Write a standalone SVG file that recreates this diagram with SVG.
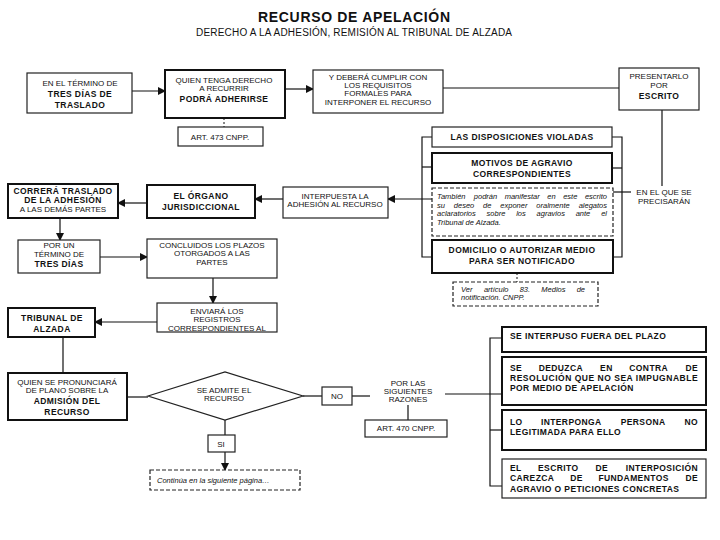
<svg xmlns="http://www.w3.org/2000/svg" width="720" height="540" viewBox="0 0 720 540">
<defs>
<marker id="ah" markerWidth="8" markerHeight="8" refX="7" refY="4" orient="auto" markerUnits="userSpaceOnUse">
<path d="M0,0 L8,4 L0,8 Z" fill="#111"/>
</marker>
<style>
text{font-family:"Liberation Sans",Arial,sans-serif;fill:#111;font-size:8px}
.c{text-anchor:middle}
.e{text-anchor:end}
.b{font-weight:bold;font-size:8.5px;letter-spacing:0.4px}
.i{font-style:italic;font-size:7.5px}
.box{fill:#fff;stroke:#222;stroke-width:1.2}
.tk{fill:#fff;stroke:#111;stroke-width:2}
.ds{fill:#fff;stroke:#222;stroke-width:1.2;stroke-dasharray:4,2}
.ln{fill:none;stroke:#111;stroke-width:1.2}
.dl{fill:none;stroke:#111;stroke-width:1;stroke-dasharray:2,2}
</style>
</defs>
<rect width="720" height="540" fill="#fff"/>
<g id="title">
<text x="354" y="22" class="c" style="font-size:14px;font-weight:bold" textLength="192" lengthAdjust="spacing">RECURSO DE APELACIÓN</text>
<text x="354" y="36" class="c" style="font-size:10px" textLength="316" lengthAdjust="spacing">DERECHO A LA ADHESIÓN, REMISIÓN AL TRIBUNAL DE ALZADA</text>
</g>
<g id="connectors">
<line class="ln" x1="132" y1="91" x2="165" y2="91" marker-end="url(#ah)"/>
<line class="ln" x1="285" y1="89" x2="313" y2="89" marker-end="url(#ah)"/>
<line class="dl" x1="224" y1="118" x2="224" y2="127"/>
<line class="ln" x1="443" y1="88" x2="619" y2="88"/>
<line class="ln" x1="662" y1="110" x2="662" y2="186"/>
<polyline class="ln" points="612,137 622,137 622,257 613,257"/>
<line class="ln" x1="612" y1="168" x2="622" y2="168"/>
<line class="ln" x1="613" y1="192" x2="631" y2="192"/>
<polyline class="ln" points="432,137 422,137 422,257 432,257"/>
<line class="ln" x1="422" y1="167" x2="432" y2="167"/>
<line class="ln" x1="432" y1="199" x2="388" y2="199" marker-end="url(#ah)"/>
<line class="ln" x1="283" y1="199" x2="255" y2="199" marker-end="url(#ah)"/>
<line class="ln" x1="147" y1="203" x2="118" y2="203" marker-end="url(#ah)"/>
<line class="ln" x1="60" y1="218" x2="60" y2="240" marker-end="url(#ah)"/>
<line class="ln" x1="100" y1="257" x2="147" y2="257" marker-end="url(#ah)"/>
<line class="ln" x1="213" y1="278" x2="213" y2="303" marker-end="url(#ah)"/>
<line class="dl" x1="517" y1="273" x2="517" y2="282"/>
<line class="ln" x1="157" y1="322" x2="95" y2="322" marker-end="url(#ah)"/>
<line class="ln" x1="63" y1="337" x2="63" y2="373"/>
<line class="ln" x1="127" y1="397" x2="148" y2="397"/>
<line class="ln" x1="303" y1="396" x2="322" y2="396"/>
<line class="ln" x1="352" y1="396" x2="370" y2="396"/>
<line class="ln" x1="445" y1="394" x2="502" y2="394"/>
<line class="ln" x1="408" y1="405" x2="408" y2="420"/>
<polyline class="ln" points="502,338 490,338 490,486 502,486"/>
<line class="ln" x1="490" y1="430" x2="502" y2="430"/>
<line class="ln" x1="225" y1="420" x2="225" y2="435"/>
<line class="ln" x1="225" y1="452" x2="225" y2="470" marker-end="url(#ah)"/>
</g>
<g id="n1"><rect class="box" x="27" y="73" width="105" height="40"/>
<text x="80" y="86" class="c">EN EL TÉRMINO DE</text>
<text x="80" y="97" class="c b">TRES DÍAS DE</text>
<text x="80" y="108" class="c b">TRASLADO</text></g>
<g id="n2"><rect class="tk" x="165" y="70" width="120" height="48"/>
<text x="224" y="83" class="c">QUIEN TENGA DERECHO</text>
<text x="224" y="91" class="c">A RECURRIR</text>
<text x="224" y="102" class="c b">PODRÁ ADHERIRSE</text></g>
<g id="n3"><rect class="box" x="178" y="127" width="85" height="19"/>
<text x="220" y="140" class="c">ART. 473 CNPP.</text></g>
<g id="n4"><rect class="box" x="313" y="70" width="130" height="43"/>
<text x="378" y="80" class="c">Y DEBERÁ CUMPLIR CON</text>
<text x="378" y="88" class="c">LOS REQUISITOS</text>
<text x="378" y="96" class="c">FORMALES PARA</text>
<text x="378" y="105" class="c">INTERPONER EL RECURSO</text></g>
<g id="n5"><rect class="box" x="619" y="68" width="80" height="42"/>
<text x="659" y="79" class="c">PRESENTARLO</text>
<text x="659" y="88" class="c">POR</text>
<text x="659" y="99" class="c b">ESCRITO</text></g>
<g id="n6"><rect class="box" x="432" y="127" width="180" height="20"/>
<text x="522" y="140" class="c b">LAS DISPOSICIONES VIOLADAS</text></g>
<g id="n7"><rect class="tk" x="432" y="153" width="180" height="30"/>
<text x="522" y="166" class="c b">MOTIVOS DE AGRAVIO</text>
<text x="522" y="177" class="c b">CORRESPONDIENTES</text></g>
<g id="n8"><rect class="ds" x="432" y="188" width="181" height="48"/>
<text y="199" class="i"><tspan x="437">También</tspan><tspan x="473.8">podrán</tspan><tspan x="504.7">manifestar</tspan><tspan x="547.3">en</tspan><tspan x="563.2">este</tspan></text>
<text x="607" y="199" class="i e">escrito</text>
<text y="207.5" class="i"><tspan x="437">su</tspan><tspan x="453.8">deseo</tspan><tspan x="483.1">de</tspan><tspan x="500.3">exponer</tspan><tspan x="536.3">oralmente</tspan></text>
<text x="607" y="207.5" class="i e">alegatos</text>
<text y="216" class="i"><tspan x="437">aclaratorios</tspan><tspan x="486.6">sobre</tspan><tspan x="516.2">los</tspan><tspan x="536.6">agravios</tspan><tspan x="575.7">ante</tspan></text>
<text x="607" y="216" class="i e">el</text>
<text x="437" y="224.5" class="i">Tribunal de Alzada.</text></g>
<g id="n9"><rect class="tk" x="432" y="240" width="181" height="33"/>
<text x="522" y="253" class="c b">DOMICILIO O AUTORIZAR MEDIO</text>
<text x="522" y="264" class="c b">PARA SER  NOTIFICADO</text></g>
<g id="n10"><rect class="ds" x="453" y="282" width="145" height="24"/>
<text y="292" class="i"><tspan x="461">Ver</tspan><tspan x="483.9">artículo</tspan><tspan x="519.7">83.</tspan><tspan x="541.3">Medios</tspan></text>
<text x="585" y="292" class="i e">de</text>
<text x="461" y="300" class="i">notificación. CNPP.</text></g>
<g id="n11"><text x="664" y="195" class="c">EN EL QUE SE</text>
<text x="664" y="204" class="c">PRECISARÁN</text></g>
<g id="n12"><rect class="box" x="283" y="187" width="105" height="31"/>
<text x="335" y="199" class="c">INTERPUESTA LA</text>
<text x="335" y="207" class="c">ADHESIÓN AL RECURSO</text></g>
<g id="n13"><rect class="tk" x="147" y="185" width="108" height="33"/>
<text x="201" y="199" class="c b">EL ÓRGANO</text>
<text x="201" y="210" class="c b">JURISDICCIONAL</text></g>
<g id="n14"><rect class="tk" x="8" y="184" width="110" height="34"/>
<text x="63" y="194" class="c b">CORRERÁ TRASLADO</text>
<text x="63" y="203" class="c b">DE LA ADHESIÓN</text>
<text x="63" y="212" class="c">A LAS DEMÁS PARTES</text></g>
<g id="n15"><rect class="box" x="18" y="240" width="82" height="33"/>
<text x="59" y="248" class="c">POR UN</text>
<text x="59" y="257" class="c">TÉRMINO DE</text>
<text x="59" y="267" class="c b">TRES DÍAS</text></g>
<g id="n16"><rect class="box" x="147" y="239" width="130" height="39"/>
<text x="212" y="248" class="c">CONCLUIDOS LOS PLAZOS</text>
<text x="212" y="256" class="c">OTORGADOS A LAS</text>
<text x="212" y="265" class="c">PARTES</text></g>
<g id="n17"><rect class="box" x="157" y="303" width="120" height="29"/>
<text x="217" y="314" class="c">ENVIARÁ LOS</text>
<text x="217" y="322" class="c">REGISTROS</text>
<text x="217" y="331" class="c">CORRESPONDIENTES AL</text></g>
<g id="n18"><rect class="tk" x="8" y="308" width="87" height="29"/>
<text x="52" y="321" class="c b">TRIBUNAL DE</text>
<text x="52" y="332" class="c b">ALZADA</text></g>
<g id="n19"><rect class="tk" x="8" y="373" width="119" height="47"/>
<text x="67" y="385" class="c">QUIEN SE PRONUNCIARÁ</text>
<text x="67" y="393" class="c">DE PLANO SOBRE LA</text>
<text x="67" y="404" class="c b">ADMISIÓN DEL</text>
<text x="67" y="415" class="c b">RECURSO</text></g>
<g id="n20"><polygon class="box" points="148,396 225,372 303,396 225,420"/>
<text x="224" y="393" class="c">SE ADMITE EL</text>
<text x="224" y="401" class="c">RECURSO</text></g>
<g id="n21"><rect class="box" x="322" y="387" width="30" height="18"/>
<text x="337" y="399" class="c">NO</text></g>
<g id="n22"><text x="408" y="386" class="c">POR LAS</text>
<text x="408" y="394" class="c">SIGUIENTES</text>
<text x="408" y="402" class="c">RAZONES</text></g>
<g id="n23"><rect class="box" x="365" y="420" width="82" height="17"/>
<text x="406" y="431" class="c">ART. 470 CNPP.</text></g>
<g id="n24"><rect class="box" x="208" y="435" width="27" height="17"/>
<text x="221" y="447" class="c">SI</text></g>
<g id="n25"><rect class="ds" x="150" y="470" width="150" height="20"/>
<text x="157" y="483" class="i">Continúa en la siguiente página…</text></g>
<g id="n26"><rect class="tk" x="502" y="327" width="204" height="25"/>
<text x="510" y="339" class="b">SE INTERPUSO FUERA DEL PLAZO</text></g>
<g id="n27"><rect class="tk" x="502" y="357" width="204" height="48"/>
<text y="371" class="b"><tspan x="510">SE</tspan><tspan x="538.7">DEDUZCA</tspan><tspan x="600.1">EN</tspan><tspan x="629.3">CONTRA</tspan></text>
<text x="698" y="371" class="b e">DE</text>
<text x="510" y="381" class="b" textLength="188" lengthAdjust="spacing">RESOLUCIÓN QUE NO SEA IMPUGNABLE</text>
<text x="510" y="391" class="b">POR MEDIO DE APELACIÓN</text></g>
<g id="n28"><rect class="tk" x="502" y="410" width="204" height="40"/>
<text y="425" class="b"><tspan x="510">LO</tspan><tspan x="540.9">INTERPONGA</tspan><tspan x="620.7">PERSONA</tspan></text>
<text x="698" y="425" class="b e">NO</text>
<text x="510" y="435" class="b">LEGITIMADA PARA ELLO</text></g>
<g id="n29"><rect class="box" x="502" y="459" width="204" height="39"/>
<text y="471" class="b"><tspan x="510">EL</tspan><tspan x="538">ESCRITO</tspan><tspan x="595.4">DE</tspan></text>
<text x="698" y="471" class="b e">INTERPOSICIÓN</text>
<text y="481" class="b"><tspan x="510">CAREZCA</tspan><tspan x="570.3">DE</tspan><tspan x="598.4">FUNDAMENTOS</tspan></text>
<text x="698" y="481" class="b e">DE</text>
<text x="510" y="492" class="b">AGRAVIO O PETICIONES CONCRETAS</text></g>
</svg>
